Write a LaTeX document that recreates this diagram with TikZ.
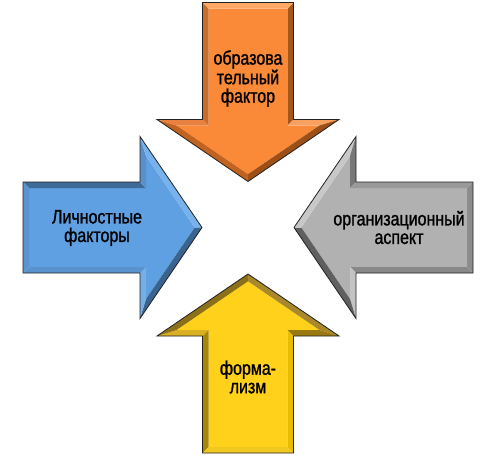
\documentclass[tikz,border=0pt]{standalone}
\usepackage{fontspec}
\setmainfont{Liberation Sans}[FakeStretch=0.82, FakeBold=1.2]
\definecolor{outl}{HTML}{222222}
% blue
\definecolor{blM}{HTML}{5FA0E2}
\definecolor{blT}{HTML}{3E6A98}
\definecolor{blBT}{HTML}{5A90C8}
\definecolor{blDT}{HTML}{78B2EC}
\definecolor{blDB}{HTML}{3A6490}
\definecolor{blBB}{HTML}{76AEE6}
\definecolor{blBo}{HTML}{5A92CE}
\definecolor{blL}{HTML}{5A93D0}
% orange
\definecolor{orM}{HTML}{FB8A38}
\definecolor{orT}{HTML}{A4561C}
\definecolor{orBT}{HTML}{F8A060}
\definecolor{orDT}{HTML}{9C5018}
\definecolor{orDB}{HTML}{C2621F}
\definecolor{orBB}{HTML}{E88040}
\definecolor{orBo}{HTML}{CC6A28}
\definecolor{orL}{HTML}{FFA866}
% gray
\definecolor{grM}{HTML}{B1B1B1}
\definecolor{grT}{HTML}{888888}
\definecolor{grBT}{HTML}{C4C4C4}
\definecolor{grDT}{HTML}{606060}
\definecolor{grDB}{HTML}{C8C8C8}
\definecolor{grBB}{HTML}{787878}
\definecolor{grBo}{HTML}{9A9A9A}
\definecolor{grL}{HTML}{8C8C8C}
% yellow
\definecolor{yeM}{HTML}{FFD11A}
\definecolor{yeT}{HTML}{A88600}
\definecolor{yeBT}{HTML}{D8B020}
\definecolor{yeDT}{HTML}{8C7018}
\definecolor{yeDB}{HTML}{A8882A}
\definecolor{yeBB}{HTML}{9A7A10}
\definecolor{yeBo}{HTML}{E8BC00}
\definecolor{yeL}{HTML}{F0C820}
\tikzset{
  lbl/.style={font=\fontsize{19.5}{18.5}\selectfont, align=center, inner sep=0pt, text=black},
  rim/.style={draw=outl, line width=0.8pt, line join=miter}
}
\newcommand\bevarrow[3]{%
  \begin{scope}[shift={#1}, rotate=#2]
    \fill[#3M] (6,-39.5) -- (123,-39.5) -- (123,-71.5) -- (171.7,0) -- (123,71.5) -- (123,39.5) -- (6,39.5) -- cycle;
    \fill[#3T] (0,-45.5) -- (117,-45.5) -- (123,-39.5) -- (6,-39.5) -- cycle;
    \fill[#3BT] (117,-45.5) -- (117,-91) -- (123,-71.5) -- (123,-39.5) -- cycle;
    \fill[#3DT] (117,-91) -- (179,0) -- (171.7,0) -- (123,-71.5) -- cycle;
    \fill[#3DB] (179,0) -- (117,91) -- (123,71.5) -- (171.7,0) -- cycle;
    \fill[#3BB] (117,91) -- (117,45.5) -- (123,39.5) -- (123,71.5) -- cycle;
    \fill[#3Bo] (117,45.5) -- (0,45.5) -- (6,39.5) -- (123,39.5) -- cycle;
    \fill[#3L] (0,45.5) -- (0,-45.5) -- (6,-39.5) -- (6,39.5) -- cycle;
    \draw[rim] (0,-45.5) -- (117,-45.5) -- (117,-91) -- (179,0) -- (117,91) -- (117,45.5) -- (0,45.5) -- cycle;
  \end{scope}}
\begin{document}
\begin{tikzpicture}[x=1pt, y=-1pt]
\useasboundingbox (0,0) rectangle (499,455);
\bevarrow{(23,227.5)}{0}{bl}
\bevarrow{(248,2.5)}{-90}{or}
\bevarrow{(473,227.5)}{180}{gr}
\bevarrow{(248,453)}{90}{ye}
\node[lbl] (tleft) at (97,228) {Личностные\\факторы};
\node[lbl] (ttop) at (248,78.5) {образова\\тельный\\фактор};
\node[lbl] (tright) at (399,227.5) {организационный\\аспект};
\node[lbl] (tbottom) at (248,377) {форма-\\лизм};
\end{tikzpicture}
\end{document}
